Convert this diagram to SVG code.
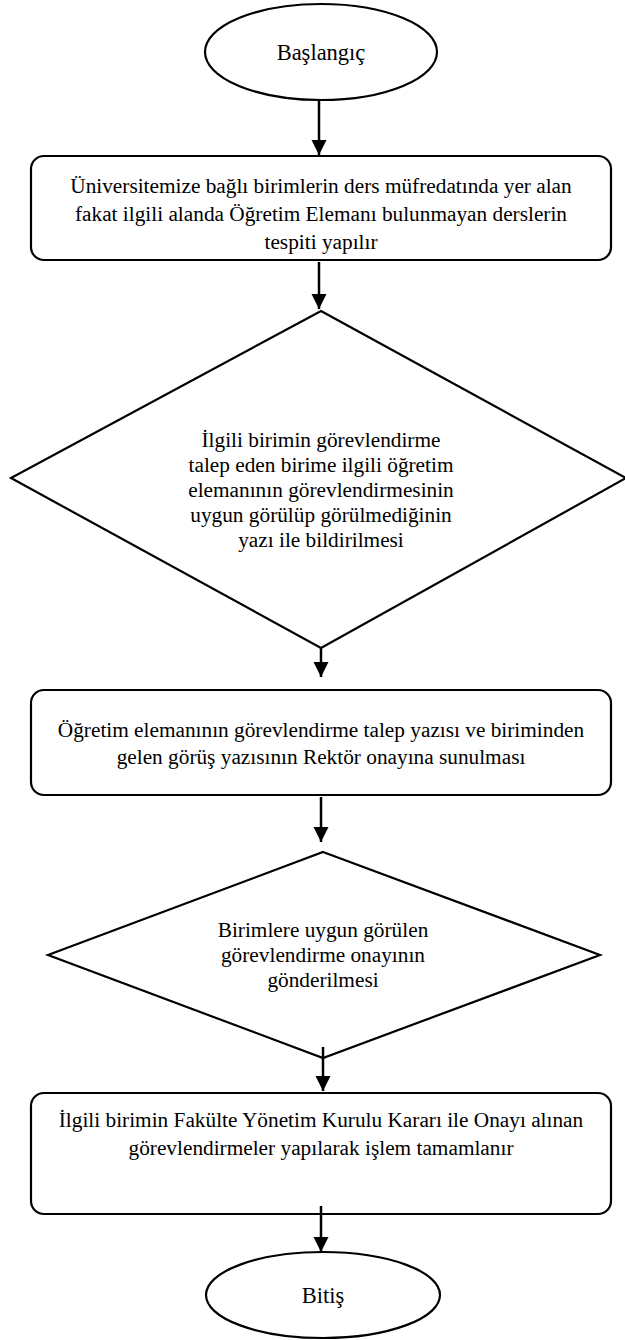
<svg xmlns="http://www.w3.org/2000/svg" width="625" height="1340" viewBox="0 0 625 1340">
<defs>
<marker id="ah" markerWidth="16" markerHeight="16" refX="15" refY="7.5" orient="auto" markerUnits="userSpaceOnUse">
<path d="M0,0 L15,7.5 L0,15 Z" fill="#000"/>
</marker>
<style>
.sh{fill:#fff;stroke:#000;stroke-width:2.2}
.t{font-family:'Liberation Serif',serif;font-size:21.3px;font-weight:normal;fill:#000;text-anchor:middle}
.c{stroke:#000;stroke-width:2.5;fill:none;marker-end:url(#ah)}
</style>
</defs>
<rect width="625" height="1340" fill="#fff"/>
<g id="start">
<ellipse class="sh" cx="321" cy="52" rx="116" ry="48"/>
<text class="t" x="321" y="60" font-family="Liberation Serif, serif" style="font-size:22.5px">Başlangıç</text>
</g>
<g id="box1" font-family="Liberation Serif, serif">
<rect class="sh" x="31" y="156" width="580" height="104" rx="13"/>
<text class="t" x="321" y="193">Üniversitemize bağlı birimlerin ders müfredatında yer alan</text>
<text class="t" x="321" y="221">fakat ilgili alanda Öğretim Elemanı bulunmayan derslerin</text>
<text class="t" x="321" y="249">tespiti yapılır</text>
</g>
<g id="decision1" font-family="Liberation Serif, serif">
<polygon class="sh" points="321,311 626,478 321,648 11,478"/>
<text class="t" x="321" y="447">İlgili birimin görevlendirme</text>
<text class="t" x="321" y="472">talep eden birime ilgili öğretim</text>
<text class="t" x="321" y="497">elemanının görevlendirmesinin</text>
<text class="t" x="321" y="522">uygun görülüp görülmediğinin</text>
<text class="t" x="321" y="547">yazı ile bildirilmesi</text>
</g>
<g id="box3" font-family="Liberation Serif, serif">
<rect class="sh" x="31" y="690" width="580" height="105" rx="13"/>
<text class="t" x="321" y="737">Öğretim elemanının görevlendirme talep yazısı ve biriminden</text>
<text class="t" x="321" y="764">gelen görüş yazısının Rektör onayına sunulması</text>
</g>
<g id="decision2" font-family="Liberation Serif, serif">
<polygon class="sh" points="323,852 600,955 323,1058 48,955"/>
<text class="t" x="323" y="937">Birimlere uygun görülen</text>
<text class="t" x="323" y="962">görevlendirme onayının</text>
<text class="t" x="323" y="987">gönderilmesi</text>
</g>
<g id="box5" font-family="Liberation Serif, serif">
<rect class="sh" x="31" y="1093" width="580" height="121" rx="13"/>
<text class="t" x="321" y="1127">İlgili birimin Fakülte Yönetim Kurulu Kararı ile Onayı alınan</text>
<text class="t" x="321" y="1155">görevlendirmeler yapılarak işlem tamamlanır</text>
</g>
<g id="end" font-family="Liberation Serif, serif">
<ellipse class="sh" cx="323" cy="1295" rx="117" ry="43"/>
<text class="t" x="323" y="1303" style="font-size:22.5px">Bitiş</text>
</g>
<g id="connectors">
<line class="c" x1="319" y1="100" x2="319" y2="155"/>
<line class="c" x1="319" y1="262" x2="319" y2="309"/>
<line class="c" x1="321" y1="648" x2="321" y2="677"/>
<line class="c" x1="321" y1="797" x2="321" y2="842"/>
<line class="c" x1="323" y1="1047" x2="323" y2="1091"/>
<line class="c" x1="321" y1="1206" x2="321" y2="1252"/>
</g>
</svg>
